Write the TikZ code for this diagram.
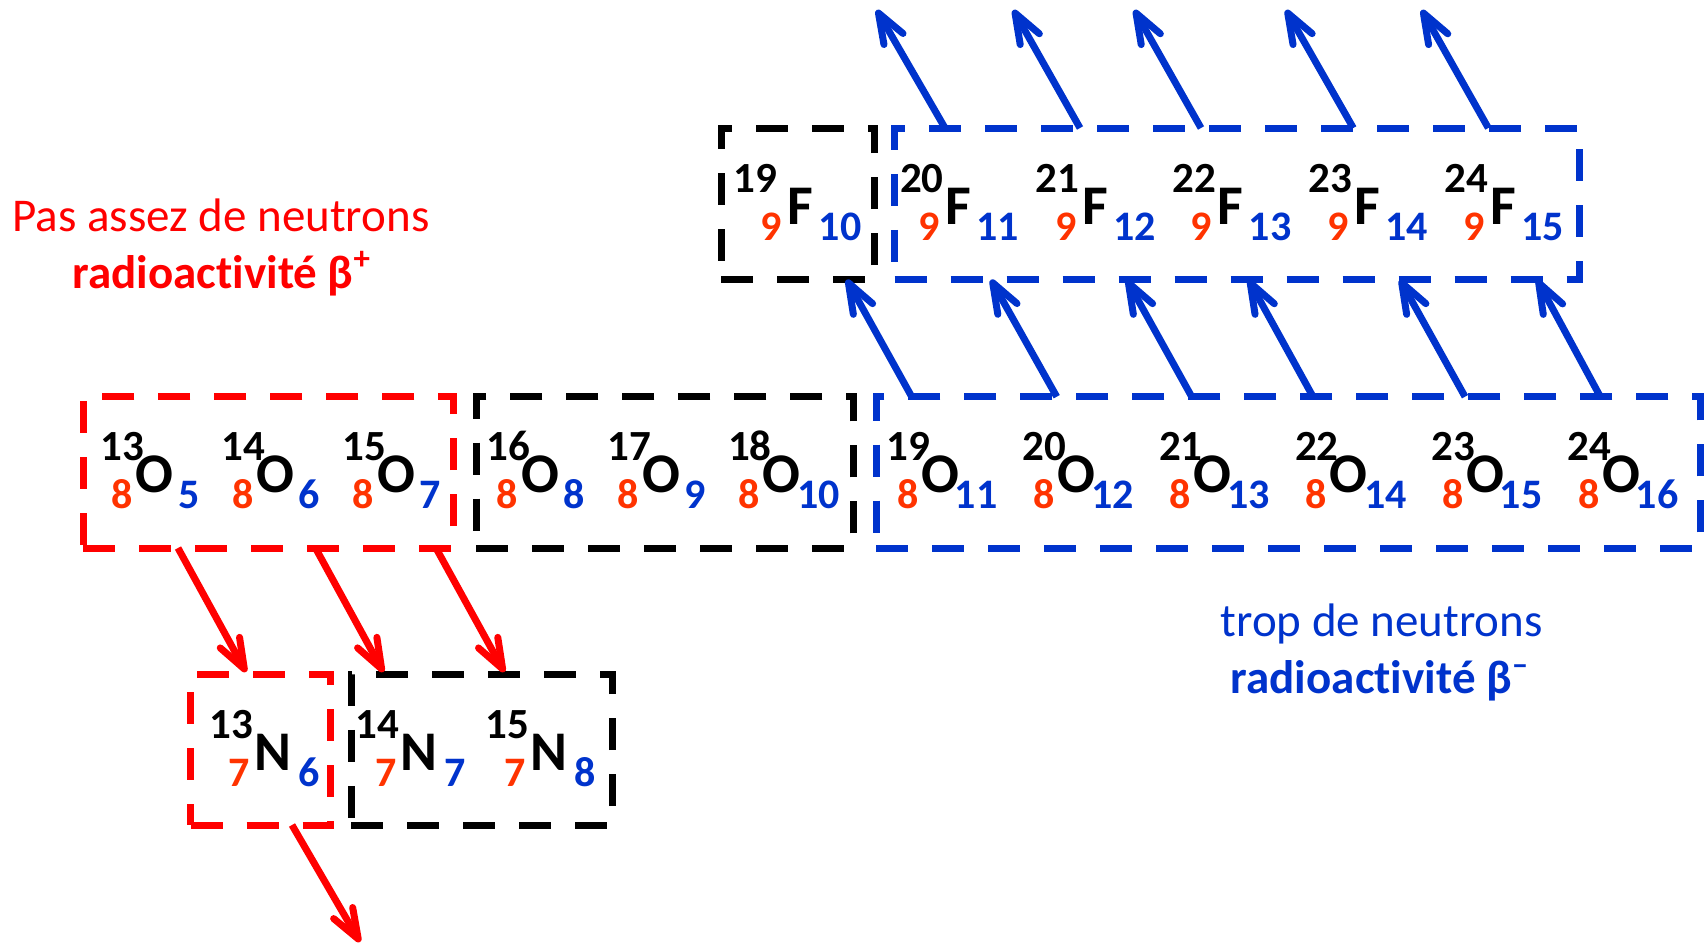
\documentclass[tikz,border=0pt]{standalone}
\usepackage{fontspec}
\setmainfont{Carlito}[Ligatures=NoCommon,Contextuals=NoAlternate]
\usetikzlibrary{arrows.meta}
\definecolor{bred}{HTML}{FF0000}
\definecolor{bblue}{HTML}{0033CC}
\definecolor{zorange}{HTML}{FF3300}

\newcommand\Onuc[5]{%
  \node[elem, anchor=base west] (#1) at ({#2-3},492) {O};
  \node[supn, anchor=base east] (#1a) at ({#2+6},460) {#3};
  \node[zsub, anchor=base east] (#1z) at ({#2-6},508) {8};
  \node[nsub, anchor=base west] (#1n) at ({#5-3},508) {#4};
}
\newcommand\Fnuc[5]{%
  \node[elem, anchor=base west] (#1) at ({#2-4},224.3) {F};
  \node[supn, anchor=base east] (#1a) at ({#5+3},192) {#3};
  \node[zsub, anchor=base east] (#1z) at ({#2-9.7},240) {9};
  \node[nsub, anchor=base west] (#1n) at ({#2+27},240) {#4};
}
\newcommand\Nnuc[4]{%
  \node[elem, anchor=base west] (#1) at ({#2-4},770) {N};
  \node[supn, anchor=base east] (#1a) at ({#2-5},738) {#3};
  \node[zsub, anchor=base east] (#1z) at ({#2-8},786) {7};
  \node[nsub, anchor=base west] (#1n) at ({#2+40},786) {#4};
}

\begin{document}
\begin{tikzpicture}[x=0.5pt,y=-0.5pt,
  box/.style={draw, line width=3.5pt, dash pattern=on 16pt off 12pt, inner sep=0, outer sep=0, anchor=center},
  elem/.style={inner sep=0, outer sep=0, font=\fontsize{28}{32}\selectfont\bfseries},
  supn/.style={inner sep=0, outer sep=0, font=\fontsize{21.5}{25}\selectfont\bfseries},
  zsub/.style={inner sep=0, outer sep=0, text=zorange, font=\fontsize{21}{24}\selectfont\bfseries},
  nsub/.style={inner sep=0, outer sep=0, text=bblue, font=\fontsize{21}{24}\selectfont\bfseries},
  lab/.style={inner sep=0, outer sep=0, anchor=base, font=\fontsize{23.5}{28}\selectfont},
  arrB/.style={draw=bblue, line width=3.5pt, -{Straight Barb[round,length=15pt,width=11pt]}},
  arrR/.style={draw=bred, line width=3.5pt, -{Straight Barb[round,length=15pt,width=11pt]}}]
\useasboundingbox (0,0) rectangle (1707,944);

% boxes
\node[box, draw=bred, minimum width=185pt, minimum height=75.65pt] (redO) at (268,472.35) {};
\node[box, draw=black, minimum width=188.7pt, minimum height=75.65pt] (blackO) at (665,472.35) {};
\node[box, draw=bblue, minimum width=412.2pt, minimum height=75.65pt] (blueO) at (1288.5,472.35) {};
\node[box, draw=black, minimum width=76.75pt, minimum height=75.85pt] (blackF) at (797.75,203.85) {};
\node[box, draw=bblue, minimum width=342.6pt, minimum height=75.85pt] (blueF) at (1237.1,203.85) {};
\node[box, draw=bred, minimum width=69.8pt, minimum height=75.5pt] (redN) at (260.5,749.8) {};
\node[box, draw=black, minimum width=130.35pt, minimum height=75.5pt] (blackN) at (481.65,749.8) {};

% oxygen row
\Onuc{O13}{138.3}{13}{5}{181.7}
\Onuc{O14}{259.3}{14}{6}{301.7}
\Onuc{O15}{380}{15}{7}{422.7}
\Onuc{O16}{524}{16}{8}{566}
\Onuc{O17}{645}{17}{9}{687.7}
\Onuc{O18}{765.7}{18}{10}{800.3}
\Onuc{O19}{924.3}{19}{11}{957.7}
\Onuc{O20}{1060.5}{20}{12}{1094.3}
\Onuc{O21}{1196.7}{21}{13}{1230.3}
\Onuc{O22}{1332.7}{22}{14}{1367}
\Onuc{O23}{1469.3}{23}{15}{1502.7}
\Onuc{O24}{1605.3}{24}{16}{1638.7}

% fluorine row
\Fnuc{F19}{791.7}{19}{10}{774}
\Fnuc{F20}{949.3}{20}{11}{940.7}
\Fnuc{F21}{1086}{21}{12}{1076}
\Fnuc{F22}{1221.7}{22}{13}{1213}
\Fnuc{F23}{1358.3}{23}{14}{1349}
\Fnuc{F24}{1494.3}{24}{15}{1485}

% nitrogen row
\Nnuc{N13}{258}{13}{6}
\Nnuc{N14}{404.3}{14}{7}
\Nnuc{N15}{534}{15}{8}

% labels
\node[lab, text=bred] (pas) at (221,231.7) {Pas assez de neutrons};
\node[lab, text=bred, font=\fontsize{23.5}{28}\selectfont\bfseries] (betap) at (221.7,288) {radioactivité β\textsuperscript{+}};
\node[lab, text=bblue] (trop) at (1381.7,636.7) {trop de neutrons};
\node[lab, text=bblue, font=\fontsize{23.5}{28}\selectfont\bfseries] (betam) at (1380,693.3) {radioactivité β\textsuperscript{–}};

% arrow end points
\coordinate (r1s) at (178,548);   \coordinate (r1e) at (246,672);
\coordinate (r2s) at (315.5,548); \coordinate (r2e) at (383.3,672);
\coordinate (r3s) at (436,548);   \coordinate (r3e) at (504.3,672);
\coordinate (r4s) at (292,825);   \coordinate (r4e) at (360,942);
\coordinate (b1s) at (911.7,396.7);  \coordinate (b1e) at (846.7,279.7);
\coordinate (b2s) at (1056.7,396.7); \coordinate (b2e) at (991,279.7);
\coordinate (b3s) at (1191.7,396.7); \coordinate (b3e) at (1126.7,279.7);
\coordinate (b4s) at (1313,396.7);   \coordinate (b4e) at (1248.5,279.7);
\coordinate (b5s) at (1465,396.7);   \coordinate (b5e) at (1400,279.7);
\coordinate (b6s) at (1600.3,396.7); \coordinate (b6e) at (1537,279.7);
\coordinate (u1s) at (945,128);    \coordinate (u1e) at (876.7,10);
\coordinate (u2s) at (1080,128);   \coordinate (u2e) at (1013.3,10);
\coordinate (u3s) at (1201,128);   \coordinate (u3e) at (1134.3,10);
\coordinate (u4s) at (1353.3,128); \coordinate (u4e) at (1286,10);
\coordinate (u5s) at (1488.3,128); \coordinate (u5e) at (1421.7,10);

\foreach \i in {1,...,4} {\draw[arrR] (r\i s) -- (r\i e);}
\foreach \i in {1,...,6} {\draw[arrB] (b\i s) -- (b\i e);}
\foreach \i in {1,...,5} {\draw[arrB] (u\i s) -- (u\i e);}
\end{tikzpicture}
\end{document}
